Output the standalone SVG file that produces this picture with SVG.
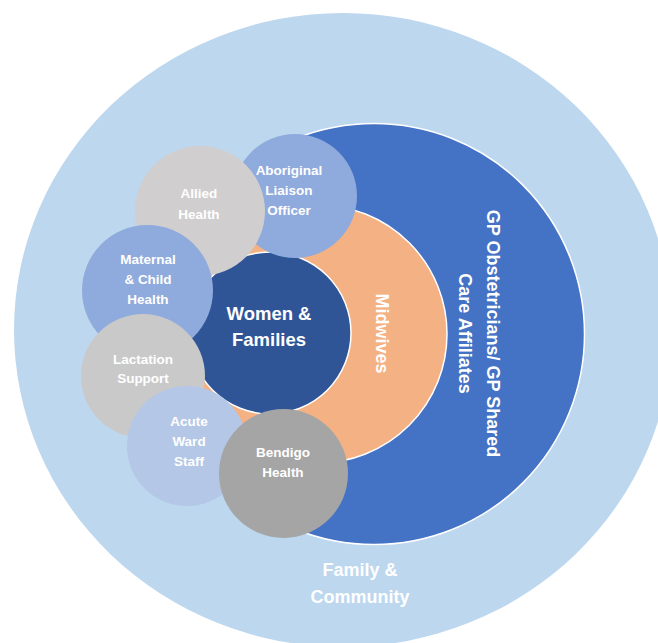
<svg xmlns="http://www.w3.org/2000/svg" width="658" height="643" viewBox="0 0 658 643">
<style>
.t{font-family:"Liberation Sans",Arial,sans-serif;font-weight:bold;fill:#FFFFFF;text-anchor:middle}
.s{font-size:13.5px}
.b{font-size:18px}
.ring{stroke:#FFFFFF;stroke-width:1.5}
</style>
<rect width="658" height="643" fill="#FFFFFF"/>
<g id="family-community">
<ellipse cx="343" cy="330" rx="329" ry="317" fill="#BDD7EE"/>
<text class="t b" x="360" y="576">Family &amp;</text>
<text class="t b" x="360" y="603">Community</text>
</g>
<g id="gp-shared-care">
<circle class="ring" cx="374" cy="334" r="210.5" fill="#4472C4"/>
<text class="t b" transform="translate(487,333.5) rotate(90)"><tspan x="0" y="0">GP Obstetricians/ GP Shared</tspan><tspan x="0" y="28">Care Affiliates</tspan></text>
</g>
<g id="midwives">
<circle class="ring" cx="318" cy="334" r="129" fill="#F4B183"/>
<text class="t b" transform="translate(376,333.5) rotate(90)">Midwives</text>
</g>
<g id="women-families">
<circle class="ring" cx="270" cy="333" r="81" fill="#2F5597"/>
<text class="t" font-size="18.5" x="269" y="319.5">Women &amp;</text>
<text class="t" font-size="18.5" x="269" y="346">Families</text>
</g>
<g id="aboriginal-liaison">
<circle cx="295" cy="196" r="62" fill="#8FAADC"/>
<text class="t s" x="289" y="175">Aboriginal</text>
<text class="t s" x="289" y="195">Liaison</text>
<text class="t s" x="289" y="215">Officer</text>
</g>
<g id="allied-health">
<circle cx="200" cy="211" r="65" fill="#D0CECE"/>
<text class="t s" x="199" y="197.5">Allied</text>
<text class="t s" x="199" y="219">Health</text>
</g>
<g id="maternal-child">
<circle cx="147.5" cy="290.5" r="65.5" fill="#8FAADC"/>
<text class="t s" x="148" y="264">Maternal</text>
<text class="t s" x="148" y="284">&amp; Child</text>
<text class="t s" x="148" y="304">Health</text>
</g>
<g id="lactation-support">
<circle cx="143" cy="376" r="62" fill="#C9C9C9"/>
<text class="t s" x="143" y="363.5">Lactation</text>
<text class="t s" x="143" y="383">Support</text>
</g>
<g id="acute-ward">
<circle cx="187" cy="446" r="60" fill="#B4C7E7"/>
<text class="t s" x="189" y="425.5">Acute</text>
<text class="t s" x="189" y="445.5">Ward</text>
<text class="t s" x="189" y="465.5">Staff</text>
</g>
<g id="bendigo-health">
<circle cx="283.5" cy="473.5" r="64.5" fill="#A5A5A5"/>
<text class="t s" x="283" y="456.5">Bendigo</text>
<text class="t s" x="283" y="477">Health</text>
</g>
<g id="connectors"></g>
</svg>
